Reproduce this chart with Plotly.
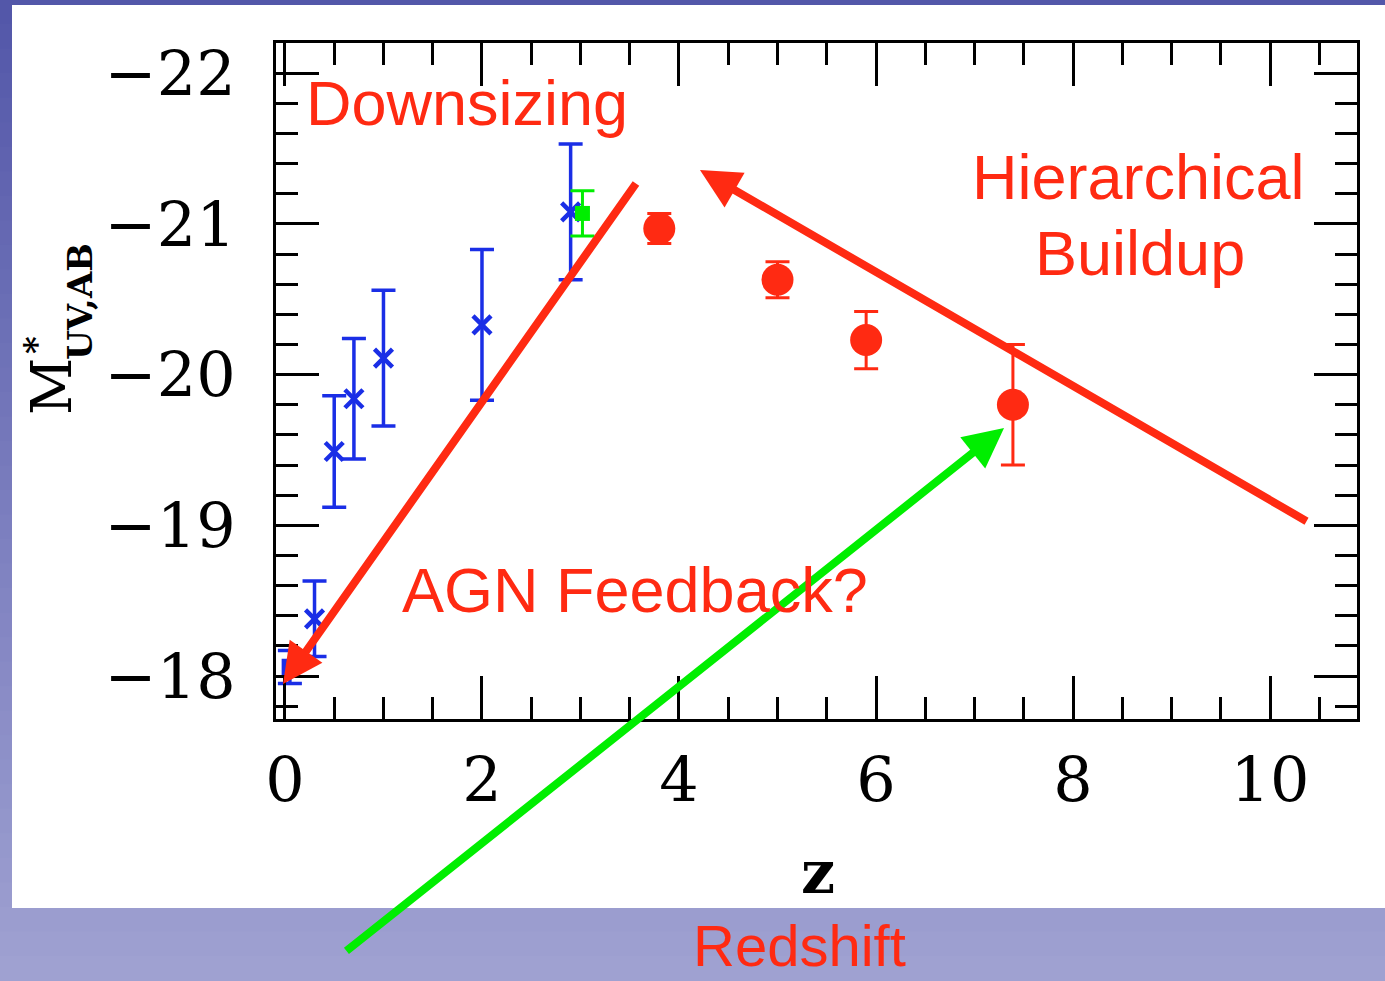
import plotly.graph_objects as go

# ---------------- data ----------------
blue_z = [0.05, 0.30, 0.50, 0.70, 1.00, 2.00, 2.90]
blue_m = [-18.06, -18.38, -19.49, -19.84, -20.11, -20.33, -21.08]
blue_err = [0.11, 0.25, 0.37, 0.40, 0.45, 0.50, 0.45]
blue_sym = ["square", "x-thin", "x-thin", "x-thin", "x-thin", "x-thin", "x-thin"]

green_z = [3.02]
green_m = [-21.07]
green_err = [0.15]

red_z = [3.80, 5.00, 5.90, 7.39]
red_m = [-20.97, -20.63, -20.23, -19.80]
red_err = [0.10, 0.12, 0.19, 0.40]

x_ticks = [0, 2, 4, 6, 8, 10]
y_ticks = [-22, -21, -20, -19, -18]

RED = "#ff2a12"
BLUE = "#1a2ee6"
GREEN = "#00ee00"

W, H = 1385, 981
L, R, T, B = 276, 1357, 43, 719  # plot area in pixels


def px(X):
    return (X - L) / (R - L)


def py(Y):
    return (B - Y) / (B - T)


fig = go.Figure()

fig.add_trace(go.Scatter(
    x=blue_z, y=blue_m, mode="markers",
    marker=dict(symbol=blue_sym, size=[12, 18, 18, 18, 18, 18, 18], color=BLUE,
                opacity=1, line=dict(color=BLUE, width=4.5)),
    error_y=dict(type="data", array=blue_err, color=BLUE, thickness=3.5, width=12),
    showlegend=False))

fig.add_trace(go.Scatter(
    x=green_z, y=green_m, mode="markers",
    marker=dict(symbol="square", size=15, color=GREEN),
    error_y=dict(type="data", array=green_err, color=GREEN, thickness=3, width=12),
    showlegend=False))

fig.add_trace(go.Scatter(
    x=red_z, y=red_m, mode="markers",
    marker=dict(symbol="circle", size=32, color=RED),
    error_y=dict(type="data", array=red_err, color=RED, thickness=3, width=12),
    showlegend=False))

# ---------------- background (slide) ----------------
shapes = []
top_c = (82, 86, 168)
bot_c = (160, 162, 210)
n = 40
for i in range(n):
    y0 = i * H / n
    y1 = (i + 1) * H / n
    t = (i + 0.5) / n
    c = tuple(int(round(top_c[k] + (bot_c[k] - top_c[k]) * t)) for k in range(3))
    shapes.append(dict(type="rect", xref="paper", yref="paper", layer="below",
                       x0=px(0), x1=px(W), y0=py(y1 + 0.5), y1=py(y0 - 0.5),
                       fillcolor="rgb(%d,%d,%d)" % c, line=dict(width=0)))
shapes.append(dict(type="rect", xref="paper", yref="paper", layer="below",
                   x0=px(12), x1=px(W + 5), y0=py(908), y1=py(5),
                   fillcolor="white", line=dict(width=0)))

annotations = []

# arrows (tail -> head), in data coordinates
arrows = [
    (3.574, -21.279, -0.02, -17.947, RED),
    (10.386, -19.022, 4.213, -21.358, RED),
    (0.609, -16.168, 7.30, -19.646, GREEN),
]
for ax_, ay_, hx, hy, col in arrows:
    annotations.append(dict(x=hx, y=hy, ax=ax_, ay=ay_, xref="x", yref="y",
                            axref="x", ayref="y", text="", showarrow=True,
                            arrowhead=2, arrowsize=1.0, arrowwidth=8,
                            arrowcolor=col, standoff=0))

# red labels
labels = [
    ("Downsizing", 467, 103, 63, "middle"),
    ("Hierarchical", 1138, 177, 63, "middle"),
    ("Buildup", 1140, 253, 63, "middle"),
    ("AGN Feedback?", 635, 590, 63, "middle"),
    ("Redshift", 799, 980, 58, "bottom"),
]
for txt, X, Y, fs, ya in labels:
    annotations.append(dict(text=txt, x=px(X), y=py(Y), xref="paper", yref="paper",
                            showarrow=False, xanchor="center", yanchor=ya,
                            font=dict(family="Liberation Sans, Arial", size=fs, color=RED)))

# axis titles
annotations.append(dict(text="<b>z</b>", x=px(818), y=py(872), xref="paper", yref="paper",
                        showarrow=False, xanchor="center", yanchor="middle",
                        font=dict(family="DejaVu Serif", size=60, color="black")))
annotations.append(dict(text="M", x=px(52), y=py(387), xref="paper", yref="paper",
                        showarrow=False, xanchor="center", yanchor="middle", textangle=-90,
                        font=dict(family="DejaVu Serif", size=56, color="black")))
annotations.append(dict(text="<b>*</b>", x=px(36), y=py(345), xref="paper", yref="paper",
                        showarrow=False, xanchor="center", yanchor="middle", textangle=-90,
                        font=dict(family="DejaVu Serif", size=34, color="black")))
annotations.append(dict(text="<b>UV,AB</b>", x=px(80), y=py(302), xref="paper", yref="paper",
                        showarrow=False, xanchor="center", yanchor="middle", textangle=-90,
                        font=dict(family="DejaVu Serif", size=34, color="black")))

axis_common = dict(
    showline=True, linecolor="black", linewidth=3, mirror="allticks",
    ticks="inside", tickcolor="black", tickwidth=3, ticklen=43,
    showgrid=False, zeroline=False, automargin=False,
    tickfont=dict(family="DejaVu Serif", size=62, color="black"),
)

fig.update_layout(
    width=W, height=H,
    margin=dict(l=L, r=W - R, t=T, b=H - B, pad=0),
    paper_bgcolor="rgb(160,162,210)",
    plot_bgcolor="white",
    xaxis=dict(range=[-0.091, 10.883], tickvals=x_ticks, ticklabelstandoff=5,
               minor=dict(dtick=0.5, ticks="inside", ticklen=22, tickwidth=3, tickcolor="black"),
               **axis_common),
    yaxis=dict(range=[-17.715, -22.201], tickvals=y_ticks, ticklabelstandoff=25,
               minor=dict(dtick=0.2, ticks="inside", ticklen=22, tickwidth=3, tickcolor="black"),
               **axis_common),
    shapes=shapes,
    annotations=annotations,
)

fig.write_html("out.html")
